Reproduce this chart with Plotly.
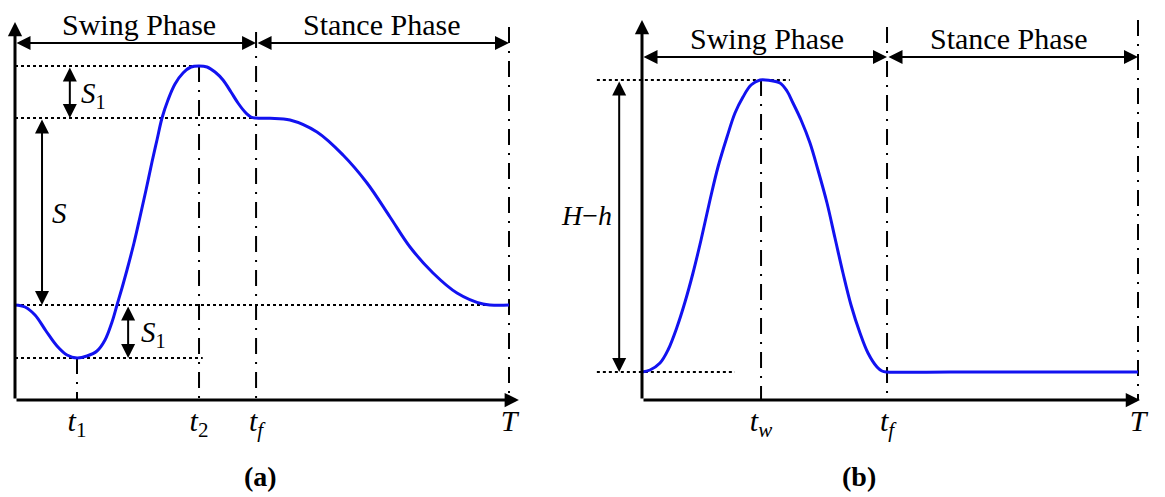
import plotly.graph_objects as go

# ---------------- data ----------------
# time is normalised to the gait period T (T = 1); heights in arbitrary units
T_END = 1.0

# panel (a): foot trajectory along the walking direction
A_T1, A_T2, A_TF = 0.1255, 0.3725, 0.488
A_BASE, A_MIN, A_S, A_PEAK = 9.5, 4.2, 28.2, 33.4
a_t = [0.0, 0.0202, 0.0405, 0.0628, 0.085, 0.1053, 0.1255, 0.1457, 0.166, 0.1822,
       0.1964, 0.2065, 0.2166, 0.2267, 0.2409, 0.253, 0.2652, 0.2773, 0.2874, 0.2976,
       0.3097, 0.3239, 0.3401, 0.3563, 0.3725, 0.3887, 0.4049, 0.4211, 0.4372, 0.4514,
       0.4656, 0.4777, 0.4879, 0.5162, 0.5567, 0.6113, 0.664, 0.7126, 0.7591, 0.7996,
       0.8462, 0.8947, 0.9474, 1.0]
a_y = [9.5, 9.3, 8.5, 6.9, 5.4, 4.5, 4.2, 4.4, 4.9, 6.0,
       7.8, 9.5, 11.2, 13.0, 15.7, 18.3, 21.0, 23.8, 26.0, 28.2,
       30.0, 31.6, 32.7, 33.3, 33.4, 33.3, 32.8, 32.0, 30.8, 29.7,
       28.8, 28.3, 28.2, 28.17, 28.0, 26.8, 24.5, 21.7, 18.3, 15.3,
       12.7, 10.7, 9.6, 9.5]
a_tickvals = [A_T1, A_T2, A_TF, T_END]
a_ticktext = ["<i>t</i><sub>1</sub>", "<i>t</i><sub>2</sub>", "<i>t<sub>f</sub></i>", "<i>T</i>"]

# panel (b): foot height trajectory
B_TW, B_TF = 0.24, 0.494
B_BASE, B_PEAK = 2.8, 32.0
b_t = [0.0, 0.0161, 0.0363, 0.0524, 0.0706, 0.0867, 0.1028, 0.119, 0.1371, 0.1532,
       0.1714, 0.1875, 0.2036, 0.2198, 0.2379, 0.2581, 0.2782, 0.2923, 0.3044, 0.3206,
       0.3387, 0.3548, 0.373, 0.3891, 0.4052, 0.4214, 0.4395, 0.4556, 0.4738, 0.4839,
       0.494, 0.621, 0.742, 0.873, 1.0]
b_y = [2.8, 3.0, 3.7, 5.0, 7.3, 9.8, 12.7, 16.0, 20.0, 23.3,
       26.3, 28.7, 30.3, 31.5, 32.0, 31.95, 31.7, 30.9, 29.7, 28.0,
       25.7, 23.0, 19.7, 16.2, 12.7, 9.5, 6.7, 4.7, 3.3, 2.9,
       2.8, 2.8, 2.8, 2.8, 2.8]
b_tickvals = [B_TW, B_TF, T_END]
b_ticktext = ["<i>t<sub>w</sub></i>", "<i>t<sub>f</sub></i>", "<i>T</i>"]

# ---------------- styling / layout ----------------
W, H = 1165, 497
BLUE = "rgb(18,18,240)"
SERIF = "Liberation Serif"
DOT = "3px,3px"
DASHDOT = "16px,8px,2px,8px"

# pixel geometry of the two panels (origin pixel and pixels per unit)
A_OX, A_SX = 15, 494
B_OX, B_SX = 642, 496
OY, SY = 400, 10.0
YTOP = OY / SY

fig = go.Figure()

def line(xs, ys, dash, xa, ya, width=2, color="black"):
    fig.add_trace(go.Scatter(x=xs, y=ys, mode="lines", xaxis=xa, yaxis=ya,
                             line=dict(color=color, width=width, dash=dash),
                             hoverinfo="skip", showlegend=False))

anns = []

def arrow(x0, y0, x1, y1, xr, yr, both=True, width=2, size=1.4):
    anns.append(dict(x=x1, y=y1, ax=x0, ay=y0, xref=xr, yref=yr, axref=xr, ayref=yr,
                     text="", showarrow=True, arrowhead=2, startarrowhead=2,
                     arrowsize=size, startarrowsize=size, arrowwidth=width,
                     arrowcolor="black", arrowside="end+start" if both else "end",
                     standoff=0, startstandoff=0))

def label(x, y, txt, xr, yr, size=29, bold=False):
    anns.append(dict(x=x, y=y, xref=xr, yref=yr, text=txt, showarrow=False,
                     xanchor="center", yanchor="middle",
                     font=dict(family=SERIF, size=size, color="black")))

# ----- panel (a) -----
line([0, A_T2], [A_PEAK, A_PEAK], DOT, "x", "y")
line([0, A_TF], [A_S, A_S], DOT, "x", "y")
line([0, T_END], [A_BASE, A_BASE], DOT, "x", "y")
line([0, 0.38], [A_MIN, A_MIN], DOT, "x", "y")
line([A_T1, A_T1], [A_MIN, 0], DASHDOT, "x", "y")
line([A_T2, A_T2], [A_PEAK, 0], DASHDOT, "x", "y")
line([A_TF, A_TF], [36.8, 0], DASHDOT, "x", "y")
line([T_END, T_END], [37.3, 0], DASHDOT, "x", "y")
fig.add_trace(go.Scatter(x=a_t, y=a_y, mode="lines", xaxis="x", yaxis="y",
                         line=dict(color=BLUE, width=3, shape="spline", smoothing=1.0),
                         hoverinfo="skip", showlegend=False))
arrow(0, 0, 1.02, 0, "x", "y", both=False, width=3, size=0.95)
arrow(0, 0, 0, 37.8, "x", "y", both=False, width=3, size=0.95)
arrow(0, 35.7, A_TF, 35.7, "x", "y")
arrow(A_TF, 35.7, T_END, 35.7, "x", "y")
arrow(0.111, A_PEAK, 0.111, A_S, "x", "y")
arrow(0.0547, A_S, 0.0547, A_BASE, "x", "y")
arrow(0.229, A_BASE, 0.229, A_MIN, "x", "y")
label(0.251, 37.6, "Swing Phase", "x", "y", size=30)
label(0.741, 37.6, "Stance Phase", "x", "y", size=30)
label(0.158, 30.5, "<i>S</i><sub>1</sub>", "x", "y")
label(0.091, 18.7, "<i>S</i>", "x", "y")
label(0.281, 6.6, "<i>S</i><sub>1</sub>", "x", "y")

# ----- panel (b) -----
line([-0.091, 0.298], [B_PEAK, B_PEAK], DOT, "x2", "y2")
line([-0.091, 0.1875], [B_BASE, B_BASE], DOT, "x2", "y2")
line([B_TW, B_TW], [B_PEAK, 0], DASHDOT, "x2", "y2")
line([B_TF, B_TF], [37.3, 0], DASHDOT, "x2", "y2")
line([T_END, T_END], [38.0, 0], DASHDOT, "x2", "y2")
fig.add_trace(go.Scatter(x=b_t, y=b_y, mode="lines", xaxis="x2", yaxis="y2",
                         line=dict(color=BLUE, width=3, shape="spline", smoothing=1.0),
                         hoverinfo="skip", showlegend=False))
arrow(0, 0, 1.004, 0, "x2", "y2", both=False, width=3, size=0.95)
arrow(0, 0, 0, 38.0, "x2", "y2", both=False, width=3, size=0.95)
arrow(0, 34.3, B_TF, 34.3, "x2", "y2")
arrow(B_TF, 34.3, T_END, 34.3, "x2", "y2")
arrow(-0.046, B_PEAK, -0.046, B_BASE, "x2", "y2")
label(0.251, 36.2, "Swing Phase", "x2", "y2", size=30)
label(0.738, 36.2, "Stance Phase", "x2", "y2", size=30)
label(-0.111, 18.5, "<i>H</i>\u2212<i>h</i>", "x2", "y2", size=28)

for px, txt in [(260, "<b>(a)</b>"), (859, "<b>(b)</b>")]:
    anns.append(dict(x=px / W, y=1 - 476 / H, xref="paper", yref="paper", showarrow=False,
                     xanchor="center", yanchor="middle", text=txt,
                     font=dict(family=SERIF, size=28, color="black")))

ydom = [(H - OY) / H, 1.0]
common_x = dict(showgrid=False, zeroline=False, showline=False, ticks="",
                tickfont=dict(family=SERIF, size=30, color="black"), fixedrange=True)
common_y = dict(showgrid=False, zeroline=False, showline=False, ticks="",
                showticklabels=False, range=[0, YTOP], domain=ydom, fixedrange=True)

fig.update_layout(
    width=W, height=H, margin=dict(l=0, r=0, t=0, b=0),
    paper_bgcolor="white", plot_bgcolor="white",
    xaxis=dict(domain=[0, 0.5], range=[-A_OX / A_SX, (W / 2 - A_OX) / A_SX],
               tickvals=a_tickvals, ticktext=a_ticktext, anchor="y", **common_x),
    yaxis=dict(anchor="x", **common_y),
    xaxis2=dict(domain=[0.5, 1.0], range=[-(B_OX - W / 2) / B_SX, (W - B_OX) / B_SX],
                tickvals=b_tickvals, ticktext=b_ticktext, anchor="y2", **common_x),
    yaxis2=dict(anchor="x2", **common_y),
    annotations=anns,
)

fig.write_html("out.html", config={"displayModeBar": False},
               post_script="document.body.style.margin='0px';")
